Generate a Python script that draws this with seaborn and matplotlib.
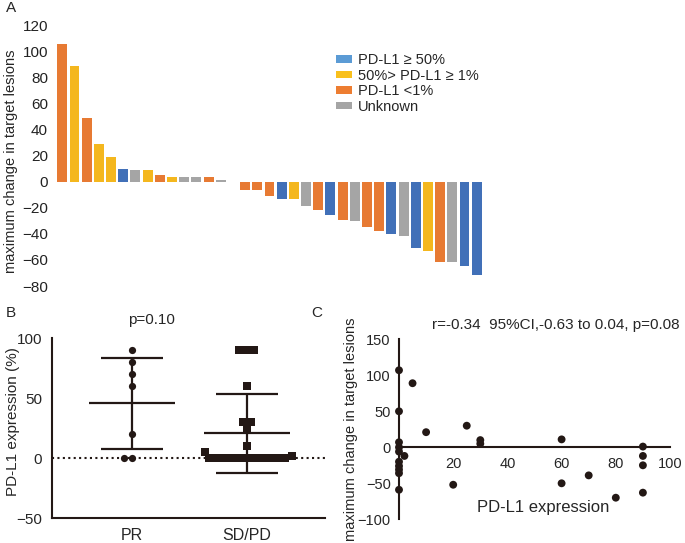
import numpy as np
import pandas as pd
import matplotlib
matplotlib.use("Agg")
import matplotlib.pyplot as plt
from matplotlib.patches import Patch
import seaborn as sns

# ---------------- data ----------------
# Panel A: waterfall (maximum change in target lesions, %)
bar_values = [106, 89, 49, 29, 19, 10, 9, 9, 5, 4, 4, 4, 4, 1, 0,
              -6, -6, -11, -13, -13.5, -18.6, -22, -25.5, -29.6, -30,
              -34.5, -37.5, -40.4, -41.7, -50.6, -53, -61.4, -61.7, -64.7, -71.4]
bar_groups = ["low", "mid", "low", "mid", "mid", "high", "unk", "mid", "low", "mid",
              "unk", "unk", "low", "unk", "unk",
              "low", "low", "low", "high", "mid", "unk", "low", "high", "low", "unk",
              "low", "low", "high", "unk", "high", "mid", "low", "unk", "high", "high"]
group_order = ["high", "mid", "low", "unk"]
legend_labels = ["PD-L1 \u2265 50%", "50%> PD-L1 \u2265 1%", "PD-L1 <1%", "Unknown"]
a_yticks = [-80, -60, -40, -20, 0, 20, 40, 60, 80, 100, 120]

# Panel B: PD-L1 expression by response
b_categories = ["PR", "SD/PD"]
pr_values = [90, 80, 70, 60, 20, 0, 0]
sdpd_values = [90, 90, 90, 60, 30, 30, 25, 10, 5, 2, 0, 0, 0, 0, 0, 0, 0, 0, 0, 0, 0]
b_yticks = [-50, 0, 50, 100]

# Panel C: correlation
c_pdl1 = [0, 5, 0, 0, 0, 0, 2, 0, 0, 0, 0, 0, 10, 25, 30, 30, 20, 60, 60, 70, 80, 90, 90, 90, 90]
c_change = [107, 89, 50, 7, 0, -6, -12, -20, -26, -31, -36, -59, 21, 30, 10, 5, -52,
            11, -50, -39, -70, 1, -12, -25, -63]
c_xticks = [20, 40, 60, 80, 100]
c_yticks = [-100, -50, 0, 50, 100, 150]

# ---------------- style ----------------
sns.set_style("white")
plt.rcParams["font.family"] = ["Liberation Sans", "DejaVu Sans"]
plt.rcParams["axes.linewidth"] = 1.5

bar_colors = {"high": "#4170B8", "mid": "#F4B71E", "low": "#E77A33", "unk": "#A5A5A5"}
legend_colors = ["#5B9BD5", "#F9C01C", "#ED7D31", "#A5A5A5"]
ink = "#231815"

W, H = 685, 543
fig = plt.figure(figsize=(W / 100, H / 100), dpi=100)

def axes_px(left, top, right, bottom):
    return fig.add_axes([left / W, 1 - bottom / H, (right - left) / W, (bottom - top) / H])

# ---------------- Panel A ----------------
axA = axes_px(55, 25.5, 484, 286)
dfA = pd.DataFrame({"patient": list(range(len(bar_values))),
                    "change": bar_values, "group": bar_groups})
sns.barplot(data=dfA, x="patient", y="change", hue="group", hue_order=group_order,
            order=list(range(len(bar_values))), palette=bar_colors, dodge=False,
            width=0.82, saturation=1, legend=False, linewidth=0, ax=axA)
axA.set_ylim(-80, 120)
axA.set_xlim(-0.6, len(bar_values) - 0.4)
axA.set_yticks(a_yticks)
axA.set_xticks([])
axA.set_xlabel("")
axA.set_ylabel("maximum change in target lesions", fontsize=10.5)
axA.yaxis.set_label_coords(-0.086, 0.48)
axA.tick_params(axis="y", length=0, labelsize=11, pad=5, colors="#222222")
for s in axA.spines.values():
    s.set_visible(False)

handles = [Patch(facecolor=c, edgecolor="none") for c in legend_colors]
fig.legend(handles, legend_labels, loc="upper left", bbox_to_anchor=(329 / W, 1 - 46 / H),
           frameon=False, fontsize=10.5, handlelength=1.1, handleheight=0.45,
           handletextpad=0.4, labelspacing=0.1, borderpad=0)

fig.text(11 / W, 1 - 8 / H, "A", fontsize=11, ha="center", va="center")

# ---------------- Panel B ----------------
axB = axes_px(52, 338.3, 325, 518)
dfB = pd.DataFrame({"group": ["PR"] * len(pr_values) + ["SD/PD"] * len(sdpd_values),
                    "value": pr_values + sdpd_values})
axB.axhline(0, color=ink, lw=1.5, ls=(0, (1, 1.6)), zorder=1)
for i, vals in enumerate([pr_values, sdpd_values]):
    m = np.mean(vals)
    sd = np.std(vals, ddof=1)
    axB.vlines(i, m - sd, m + sd, color=ink, lw=1.6, zorder=2)
    axB.hlines([m - sd, m + sd], i - 0.27, i + 0.27, color=ink, lw=1.6, zorder=2)
    axB.hlines(m, i - 0.375, i + 0.375, color=ink, lw=1.6, zorder=2)
sns.swarmplot(data=dfB[dfB.group == "PR"], x="group", y="value", order=b_categories,
              marker="o", size=5.2, color=ink, ax=axB, zorder=3)
sns.swarmplot(data=dfB[dfB.group == "SD/PD"], x="group", y="value", order=b_categories,
              marker="s", size=5.2, color=ink, ax=axB, zorder=3)
axB.set_xlim(-0.693, 1.68)
axB.set_ylim(-50, 100)
axB.set_yticks(b_yticks)
axB.set_xlabel("")
axB.set_ylabel("PD-L1 expression (%)", fontsize=11)
axB.yaxis.set_label_coords(-0.118, 0.535)
axB.spines["top"].set_visible(False)
axB.spines["right"].set_visible(False)
for s in ["left", "bottom"]:
    axB.spines[s].set_color(ink)
axB.tick_params(axis="both", direction="out", length=5, width=1.5, color=ink,
                labelsize=11, pad=2)
axB.tick_params(axis="x", labelsize=11.5)
axB.text(0.365, 1.10, "p=0.10", transform=axB.transAxes, ha="center", va="center",
         fontsize=11)
fig.text(11 / W, 1 - 313 / H, "B", fontsize=11, ha="center", va="center")

# ---------------- Panel C ----------------
axC = axes_px(399, 339.3, 670, 519.3)
sns.scatterplot(x=c_pdl1, y=c_change, color=ink, s=32, edgecolor="none", ax=axC, zorder=3)
for coll in axC.collections:
    coll.set_clip_on(False)
axC.set_xlim(0, 100)
axC.set_ylim(-100, 150)
axC.set_xticks(c_xticks)
axC.set_yticks(c_yticks)
axC.spines["top"].set_visible(False)
axC.spines["right"].set_visible(False)
axC.spines["bottom"].set_position(("data", 0))
for s in ["left", "bottom"]:
    axC.spines[s].set_color(ink)
axC.tick_params(axis="both", direction="out", length=4, width=1.5, color=ink,
                labelsize=10.5, pad=2)
axC.tick_params(axis="x", pad=3)
axC.set_ylabel("maximum change in target lesions", fontsize=10.5)
axC.yaxis.set_label_coords(-0.15, 0.5)
axC.text(0.531, 0.063, "PD-L1 expression", transform=axC.transAxes, ha="center",
         va="center", fontsize=12)
axC.text(0.12, 1.08, "r=-0.34  95%CI,-0.63 to 0.04, p=0.08", transform=axC.transAxes,
         ha="left", va="center", fontsize=11)
fig.text(317 / W, 1 - 313 / H, "C", fontsize=11, ha="center", va="center")

fig.savefig("out.png", dpi=100)
